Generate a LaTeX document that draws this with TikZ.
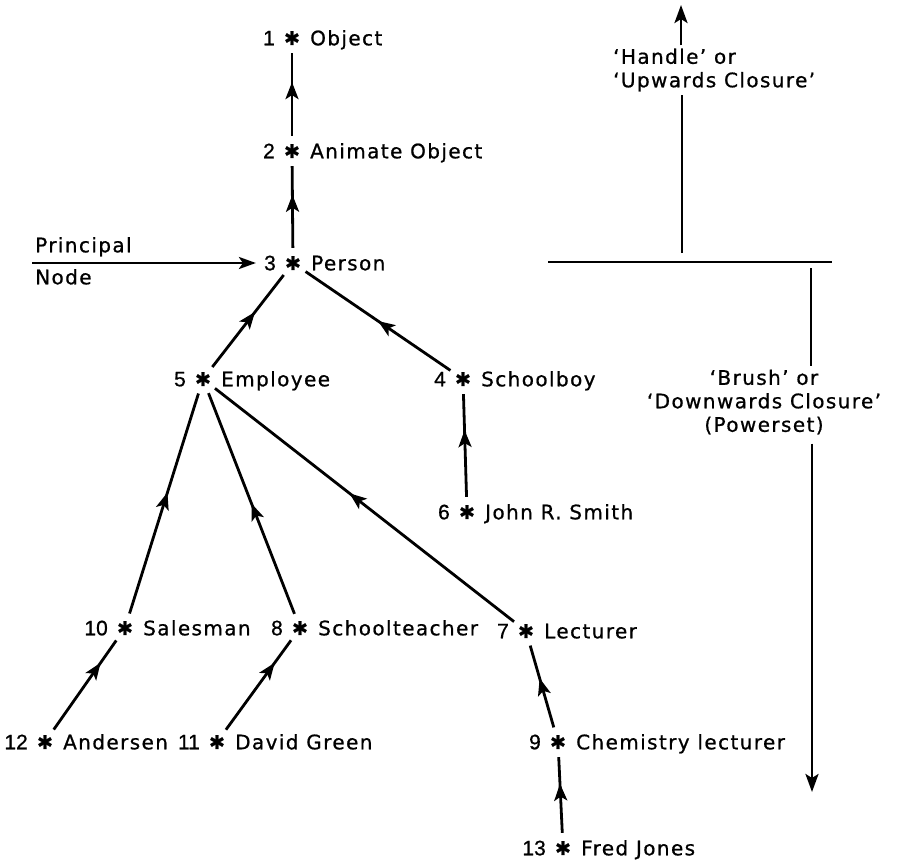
\documentclass[tikz,border=0pt]{standalone}
\usepackage{fontspec}
\setmainfont[LetterSpace=7,FakeBold=0.8]{DejaVu Sans}
\newfontfamily\numfont[FakeBold=0.8]{Liberation Sans}
\usepackage{tikz}
\usetikzlibrary{positioning,arrows.meta,decorations.markings}
\tikzset{
  link/.style={line width=2.8pt, postaction=decorate,
    decoration={markings, mark=at position #1 with {\arrow{Stealth[length=17pt,width=13pt,inset=4pt]}}}},
  link/.default=0.6,
  rule/.style={line width=2.8pt},
  star/.style={circle, minimum size=30pt, inner sep=0pt, font=\fontsize{19}{19}\selectfont},
  word/.style={inner sep=0pt, text height=14.6pt, text depth=0pt, font=\fontsize{20}{24}\selectfont},
  numword/.style={word, font=\fontsize{21}{24}\numfont},
  note/.style={inner sep=3pt, font=\fontsize{20}{23.5}\selectfont}
}
\newcommand{\Entry}[4]{%
  \node[star] (s#1) at (#2) {✱};
  \node[numword, left=17pt of s#1.center] (n#1) {#3};
  \node[word, right=18pt of s#1.center] (t#1) {#4};
}

\begin{document}
\begin{tikzpicture}[x=1pt, y=-1pt]
  \useasboundingbox (0,0) rectangle (903,862);

  \Entry{1}{292,38}{1}{Object}
  \Entry{2}{292,151}{2}{Animate Object}
  \Entry{3}{293,263}{3}{Person}
  \Entry{5}{203,379}{5}{Employee}
  \Entry{4}{463,379}{4}{Schoolboy}
  \Entry{6}{467,512}{6}{John R. Smith}
  \Entry{10}{125,628}{10}{Salesman}
  \Entry{8}{300,628}{8}{Schoolteacher}
  \Entry{7}{526,631}{7}{Lecturer}
  \Entry{12}{45,742}{12}{Andersen}
  \Entry{11}{217,742}{11}{David Green}
  \Entry{9}{558,742}{9}{Chemistry lecturer}
  \Entry{13}{563,848}{13}{Fred Jones}

  \draw[link=0.65] (s2) -- (s1);
  \draw[link=0.65] (s3) -- (s2);
  \draw[link] (s5) -- (s3);
  \draw[link=0.5] (s4) -- (s3);
  \draw[link=0.65] (s6) -- (s4);
  \draw[link=0.55] (s10) -- (s5);
  \draw[link=0.5] (s8) -- (s5);
  \draw[link=0.55] (s7) -- (s5);
  \draw[link=0.75] (s12) -- (s10);
  \draw[link=0.75] (s11) -- (s8);
  \draw[link] (s9) -- (s7);
  \draw[link=0.65] (s13) -- (s9);

  % principal node pointer
  \node[word, anchor=west] (princ) at (35,245) {Principal};
  \node[word, anchor=west] (pnode) at (35,277) {Node};
  \coordinate (pin) at (32,263);
  \draw[rule, -{Stealth[length=17pt,width=12pt,inset=4pt]}, shorten >=8pt] (pin) -- (n3);

  % handle and brush
  \coordinate (bl) at (548,262);
  \coordinate (br) at (832,262);
  \draw[rule] (bl) -- (br);

  \node[note, anchor=west, align=left] (handle) at (610,70) {‘Handle’ or\\‘Upwards Closure’};
  \coordinate (hfoot) at (682,253);
  \coordinate (htip) at (681,5);
  \draw[rule] (hfoot) -- (hfoot |- handle.south);
  \draw[rule, -{Stealth[length=18pt,width=13pt,inset=4pt]}] (htip |- handle.north) -- (htip);

  \node[note, align=center] (brush) at (764,402) {‘Brush’ or\\‘Downwards Closure’\\(Powerset)};
  \coordinate (bfoot) at (811,268);
  \coordinate (btip) at (812,792);
  \draw[rule] (bfoot) -- (bfoot |- brush.north);
  \draw[rule, -{Stealth[length=18pt,width=13pt,inset=4pt]}, shorten <=6pt] (btip |- brush.south) -- (btip);
\end{tikzpicture}
\end{document}
